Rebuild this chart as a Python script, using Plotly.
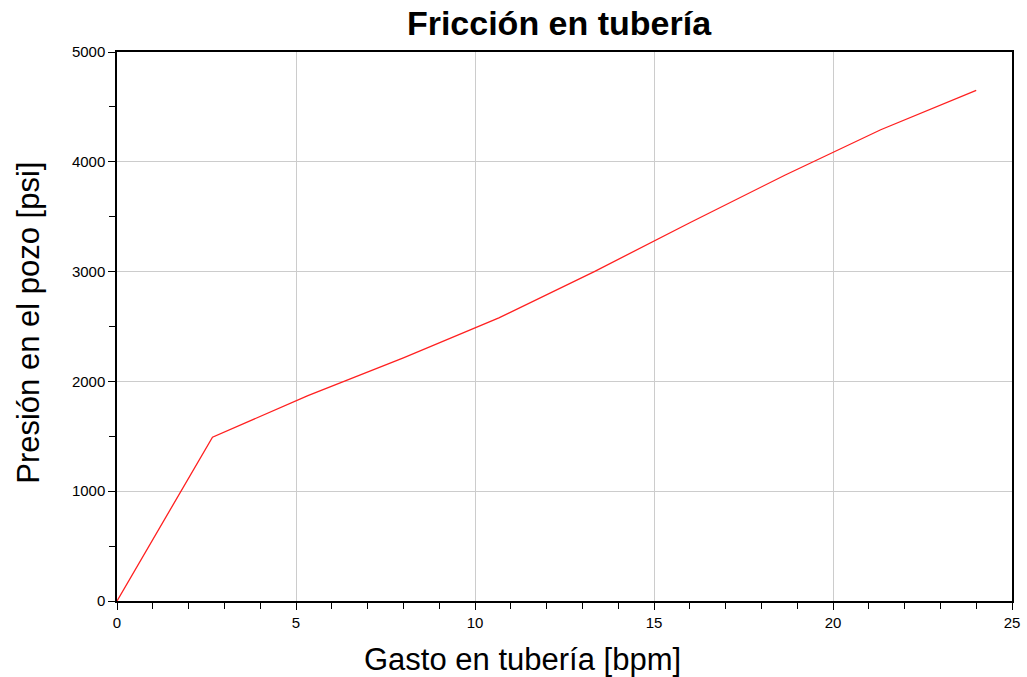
import plotly.graph_objects as go

gasto = [0, 2.667, 5.333, 8, 10.667, 13.333, 16, 18.667, 21.333, 24]
presion = [0, 1492, 1870, 2214, 2578, 3000, 3445, 3880, 4292, 4650]

title_text = "Fricción en tubería"
x_title = "Gasto en tubería [bpm]"
y_title = "Presión en el pozo [psi]"

fig = go.Figure()
fig.add_trace(go.Scatter(x=gasto, y=presion, mode="lines",
                         line=dict(color="#ff2020", width=1.3),
                         showlegend=False, hoverinfo="x+y"))

font = "Liberation Sans, Arial, sans-serif"
PW = 1027 - 117 - 7
PH = 677 - 52 - 76
fig.update_layout(
    width=1027, height=677,
    margin=dict(l=117, r=7, t=52, b=76),
    paper_bgcolor="white", plot_bgcolor="white",
    title=dict(text="<b>" + title_text + "</b>", x=559 / 1027, xanchor="center",
               xref="container", y=1 - 23 / 677, yanchor="middle",
               font=dict(family=font, size=34, color="black")),
    font=dict(family=font, color="black"),
    annotations=[
        dict(text=x_title, xref="paper", yref="paper", showarrow=False,
             x=(526 - 117) / PW, y=-(659 - 601) / PH, xanchor="center", yanchor="middle",
             font=dict(family=font, size=31, color="black")),
        dict(text=y_title, xref="paper", yref="paper", showarrow=False, textangle=-90,
             x=-(117 - 27) / PW, y=(601 - 323) / PH, xanchor="center", yanchor="middle",
             font=dict(family=font, size=31, color="black")),
    ],
)
fig.update_xaxes(
    range=[0, 25], dtick=5, tick0=0,
    showgrid=True, gridcolor="#cccccc", gridwidth=1,
    showline=True, linecolor="black", linewidth=1.5, mirror=True,
    ticks="outside", ticklen=7, tickcolor="black", tickwidth=1,
    minor=dict(dtick=1, ticks="outside", ticklen=6, tickcolor="black", showgrid=False),
    tickfont=dict(family=font, size=15, color="black"),
    zeroline=False,
)
fig.update_yaxes(
    range=[0, 5000], dtick=1000, tick0=0,
    showgrid=True, gridcolor="#cccccc", gridwidth=1,
    showline=True, linecolor="black", linewidth=1.5, mirror=True,
    ticks="outside", ticklen=7, tickcolor="black", tickwidth=1,
    minor=dict(dtick=500, ticks="outside", ticklen=6, tickcolor="black", showgrid=False),
    tickfont=dict(family=font, size=15, color="black"),
    zeroline=False,
)
fig.write_html("out.html")
